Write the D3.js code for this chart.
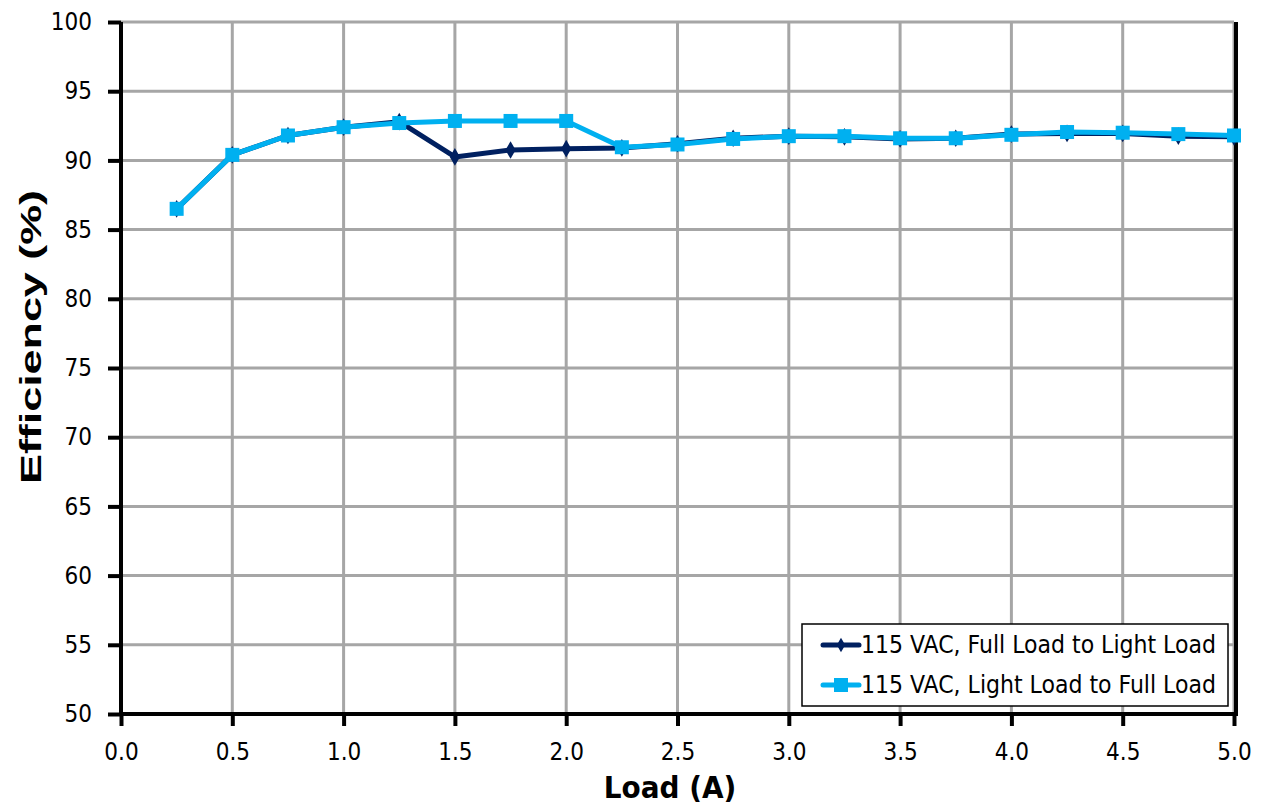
<!DOCTYPE html>
<html><head><meta charset="utf-8">
<script src="https://cdn.jsdelivr.net/npm/d3@7"></script>
<style>body{margin:0;background:#fff}svg{display:block}</style>
</head><body>
<svg id="c" width="1263" height="810"></svg>
<script>
const loads = [0.25,0.5,0.75,1.0,1.25,1.5,1.75,2.0,2.25,2.5,2.75,3.0,3.25,3.5,3.75,4.0,4.25,4.5,4.75,5.0];
const fullToLight = [86.5,90.4,91.8,92.4,92.8,90.25,90.75,90.85,90.9,91.2,91.6,91.75,91.7,91.55,91.6,91.9,91.95,91.95,91.75,91.7];
const lightToFull = [86.5,90.4,91.8,92.4,92.7,92.85,92.85,92.85,90.95,91.15,91.55,91.75,91.75,91.6,91.6,91.85,92.05,92.0,91.9,91.8];
const seriesNames = ["115 VAC, Full Load to Light Load","115 VAC, Light Load to Full Load"];
const xTicks = [0,0.5,1,1.5,2,2.5,3,3.5,4,4.5,5];
const yTicks = [50,55,60,65,70,75,80,85,90,95,100];

const svg = d3.select("#c");
const font = "'DejaVu Sans Condensed', 'DejaVu Sans', Verdana, sans-serif";
const L=121, R=1234, T=22, B=714;
const x = d3.scaleLinear().domain([0,5]).range([L,R]);
const y = d3.scaleLinear().domain([50,100]).range([B,T]);

// grid
svg.append("g").selectAll("line").data(xTicks.slice(1)).join("line")
  .attr("x1",d=>x(d)).attr("x2",d=>x(d)).attr("y1",T).attr("y2",B)
  .attr("stroke","#a6a6a6").attr("stroke-width",3);
svg.append("g").selectAll("line").data(yTicks.slice(1)).join("line")
  .attr("x1",L).attr("x2",R).attr("y1",d=>y(d)).attr("y2",d=>y(d))
  .attr("stroke","#a6a6a6").attr("stroke-width",3);

// axes
const xAxis = svg.append("g").attr("transform",`translate(0,${B})`)
  .call(d3.axisBottom(x).tickValues(xTicks).tickFormat(d3.format(".1f")).tickSize(12).tickPadding(17));
const yAxis = svg.append("g").attr("transform",`translate(${L},0)`)
  .call(d3.axisLeft(y).tickValues(yTicks).tickSize(13).tickPadding(16));
[xAxis,yAxis].forEach(a=>{
  a.select(".domain").attr("stroke","#000").attr("stroke-width",4);
  a.selectAll(".tick line").attr("stroke","#000").attr("stroke-width",4);
  a.selectAll("text").attr("font-family",font).attr("font-size",24).attr("fill","#000");
});
xAxis.select(".domain").attr("d",`M${L},0H${R}`);
yAxis.select(".domain").attr("d",`M0,${B}V${T}`);
// right border
svg.append("line").attr("x1",R+2).attr("x2",R+2).attr("y1",T).attr("y2",B+2)
  .attr("stroke","#000").attr("stroke-width",4);

// titles
svg.append("text").attr("x",670).attr("y",798).attr("text-anchor","middle")
  .attr("font-family",font).attr("font-weight","bold").attr("font-size",31).text("Load (A)");
svg.append("text").attr("transform",`translate(41,337) rotate(-90)`).attr("text-anchor","middle")
  .attr("font-family","'Liberation Sans', Arial, sans-serif").attr("font-weight","bold").attr("font-size",30)
  .attr("textLength",294).attr("lengthAdjust","spacingAndGlyphs").text("Efficiency (%)");

const line = d3.line().x(d=>x(d[0])).y(d=>y(d[1]));
const dark = loads.map((l,i)=>[l,fullToLight[i]]);
const cyan = loads.map((l,i)=>[l,lightToFull[i]]);
const cDark="#002060", cCyan="#00b0f0";

svg.append("path").datum(dark).attr("d",line).attr("fill","none").attr("stroke",cDark).attr("stroke-width",5).attr("stroke-linejoin","round");
svg.append("g").selectAll("path").data(dark).join("path")
  .attr("d",d3.symbol(d3.symbolDiamond,90)).attr("transform",d=>`translate(${x(d[0])},${y(d[1])})`).attr("fill",cDark);
svg.append("path").datum(cyan).attr("d",line).attr("fill","none").attr("stroke",cCyan).attr("stroke-width",5).attr("stroke-linejoin","round");
svg.append("g").selectAll("rect").data(cyan).join("rect")
  .attr("x",d=>x(d[0])-7).attr("y",d=>y(d[1])-7).attr("width",14).attr("height",14).attr("fill",cCyan);

// legend
const lg = svg.append("g");
lg.append("rect").attr("x",802).attr("y",624).attr("width",426).attr("height",82).attr("fill","#fff").attr("stroke","#000").attr("stroke-width",1.5);
const items=[{n:seriesNames[0],c:cDark,m:"d"},{n:seriesNames[1],c:cCyan,m:"s"}];
items.forEach((it,i)=>{
  const yy=645+i*40;
  lg.append("line").attr("x1",823).attr("x2",859).attr("y1",yy).attr("y2",yy).attr("stroke",it.c).attr("stroke-width",5).attr("stroke-linecap","round");
  if(it.m==="d") lg.append("path").attr("d",d3.symbol(d3.symbolDiamond,60)).attr("transform",`translate(841,${yy})`).attr("fill",it.c);
  else lg.append("rect").attr("x",834).attr("y",yy-7).attr("width",14).attr("height",14).attr("fill",it.c);
  lg.append("text").attr("x",861).attr("y",yy+8).attr("font-family",font).attr("font-size",24.5).attr("fill","#000").text(it.n);
});
</script>
</body></html>
